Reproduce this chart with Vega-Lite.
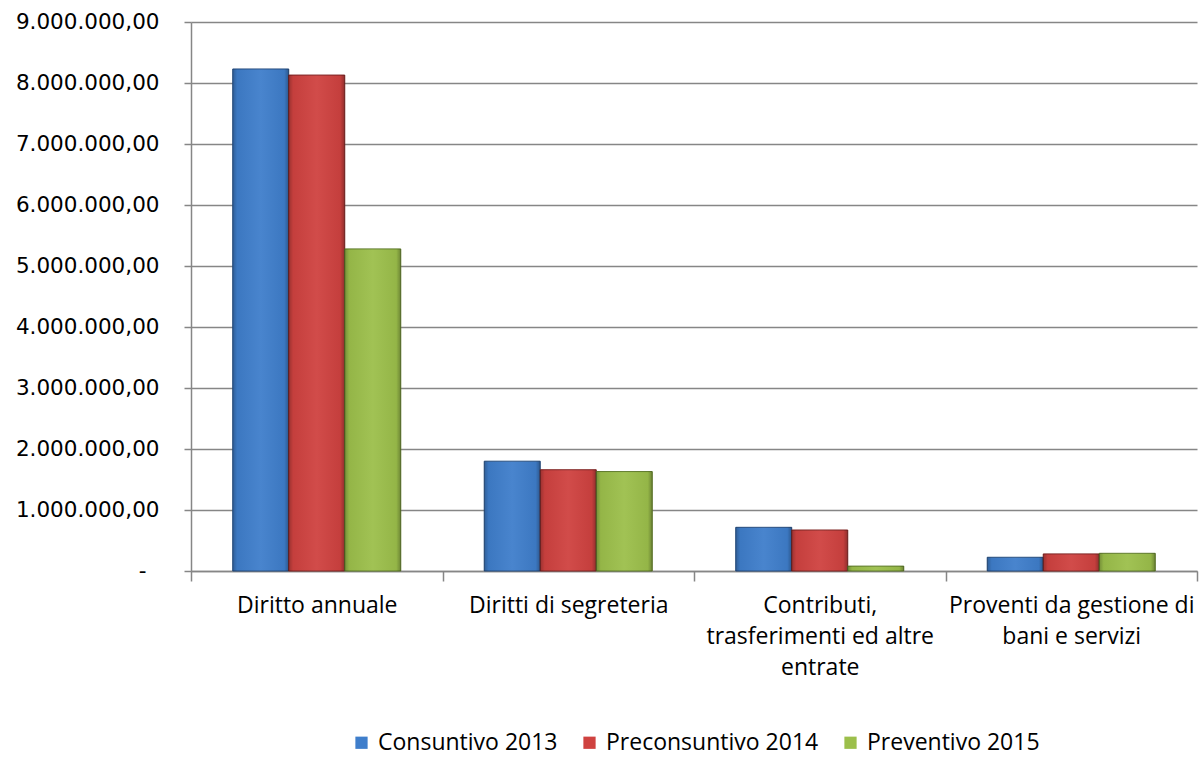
{
  "$schema": "https://vega.github.io/schema/vega-lite/v6.json",
  "width": 1006,
  "height": 549,
  "autosize": {"type": "none"},
  "padding": {"left": 191, "top": 22, "right": 5, "bottom": 186},
  "background": "white",
  "data": {
    "values": [
      {"categoria": "Diritto annuale", "serie": "Consuntivo 2013", "valore": 8230000},
      {"categoria": "Diritto annuale", "serie": "Preconsuntivo 2014", "valore": 8130000},
      {"categoria": "Diritto annuale", "serie": "Preventivo 2015", "valore": 5280000},
      {"categoria": "Diritti di segreteria", "serie": "Consuntivo 2013", "valore": 1800000},
      {"categoria": "Diritti di segreteria", "serie": "Preconsuntivo 2014", "valore": 1660000},
      {"categoria": "Diritti di segreteria", "serie": "Preventivo 2015", "valore": 1630000},
      {"categoria": "Contributi, trasferimenti ed altre entrate", "serie": "Consuntivo 2013", "valore": 716000},
      {"categoria": "Contributi, trasferimenti ed altre entrate", "serie": "Preconsuntivo 2014", "valore": 672000},
      {"categoria": "Contributi, trasferimenti ed altre entrate", "serie": "Preventivo 2015", "valore": 80000},
      {"categoria": "Proventi da gestione di bani e servizi", "serie": "Consuntivo 2013", "valore": 225000},
      {"categoria": "Proventi da gestione di bani e servizi", "serie": "Preconsuntivo 2014", "valore": 280000},
      {"categoria": "Proventi da gestione di bani e servizi", "serie": "Preventivo 2015", "valore": 290000}
    ]
  },
  "encoding": {
    "x": {
      "field": "categoria",
      "type": "nominal",
      "sort": ["Diritto annuale", "Diritti di segreteria", "Contributi, trasferimenti ed altre entrate", "Proventi da gestione di bani e servizi"],
      "scale": {"paddingInner": 0, "paddingOuter": 0},
      "title": null,
      "axis": {
        "labelAngle": 0,
        "labelFont": "Open Sans",
        "labelFontSize": 23,
        "labelColor": "#000000",
        "labelLimit": 300,
        "labelPadding": 13,
        "labelLineHeight": 31,
        "labelBaseline": "top",
        "labelExpr": "datum.value == 'Contributi, trasferimenti ed altre entrate' ? ['Contributi,', 'trasferimenti ed altre', 'entrate'] : datum.value == 'Proventi da gestione di bani e servizi' ? ['Proventi da gestione di', 'bani e servizi'] : datum.value",
        "tickBand": "extent",
        "tickSize": 10,
        "tickColor": "#868686",
        "domainColor": "#868686",
        "domainWidth": 1.5,
        "tickWidth": 1.5,
        "grid": false
      }
    },
    "xOffset": {
      "field": "serie",
      "type": "nominal",
      "sort": ["Consuntivo 2013", "Preconsuntivo 2014", "Preventivo 2015"],
      "scale": {"paddingInner": 0, "paddingOuter": 0.745}
    },
    "y": {
      "field": "valore",
      "type": "quantitative",
      "title": null,
      "scale": {"domain": [0, 9000000], "nice": false},
      "axis": {
        "values": [0, 1000000, 2000000, 3000000, 4000000, 5000000, 6000000, 7000000, 8000000, 9000000],
        "labelExpr": "datum.value == 0 ? '-' : replace(replace(replace(format(datum.value, ',.2f'), '.', ';'), regexp(',', 'g'), '.'), ';', ',')",
        "labelFont": "DejaVu Sans",
        "labelFontSize": 21.5,
        "labelColor": "#000000",
        "labelPadding": {"condition": {"test": "datum.value == 0", "value": 38}, "value": 25},
        "tickSize": 7,
        "tickColor": "#868686",
        "tickWidth": 1.5,
        "domainColor": "#868686",
        "domainWidth": 1.5,
        "grid": true,
        "gridColor": "#868686",
        "gridWidth": 1.5
      }
    }
  },
  "layer": [
    {
      "mark": {"type": "bar", "strokeWidth": 1},
      "encoding": {
        "color": {
          "field": "serie",
          "type": "nominal",
          "title": null,
          "scale": {
            "domain": ["Consuntivo 2013", "Preconsuntivo 2014", "Preventivo 2015"],
            "range": ["#3f7ecb", "#cf4240", "#9cbf4b"]
          },
          "legend": {
            "orient": "none",
            "direction": "horizontal",
            "legendX": 159,
            "legendY": 709,
            "symbolType": "square",
            "symbolSize": 150,
            "symbolStrokeWidth": 0,
            "labelFont": "Open Sans",
            "labelFontSize": 23,
            "labelColor": "#000000",
            "labelOffset": 5,
            "columnPadding": 20,
            "labelLimit": 300
          }
        },
        "stroke": {
          "field": "serie",
          "type": "nominal",
          "scale": {
            "domain": ["Consuntivo 2013", "Preconsuntivo 2014", "Preventivo 2015"],
            "range": ["#264d7f", "#7f2423", "#5e7a2a"]
          },
          "legend": null
        }
      }
    },
    {
      "mark": {
        "type": "bar",
        "strokeWidth": 0,
        "fill": {
          "gradient": "linear",
          "x1": 0, "y1": 0, "x2": 1, "y2": 0,
          "stops": [
            {"offset": 0, "color": "rgba(0,0,0,0.25)"},
            {"offset": 0.08, "color": "rgba(0,0,0,0.05)"},
            {"offset": 0.5, "color": "rgba(255,255,255,0.05)"},
            {"offset": 0.92, "color": "rgba(0,0,0,0.05)"},
            {"offset": 1, "color": "rgba(0,0,0,0.3)"}
          ]
        }
      },
      "encoding": {}
    }
  ],
  "config": {"view": {"stroke": null}}
}
